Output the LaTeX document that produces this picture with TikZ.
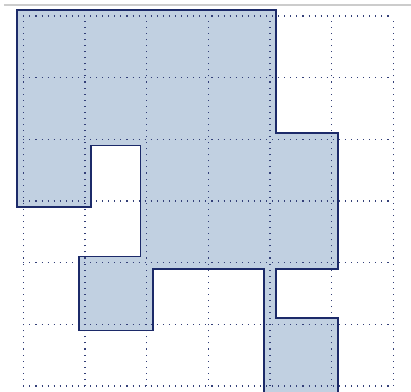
\documentclass[tikz,border=0pt]{standalone}
\usepackage{tikz}
\usepackage{xcolor}
\definecolor{fl}{RGB}{193,208,225}
\definecolor{nv}{RGB}{28,42,105}
\definecolor{gr}{gray}{0.8}
\def\region{(-0.1,6.1) -- (4.1,6.1) -- (4.1,4.1) -- (5.1,4.1) -- (5.1,1.9) -- (4.1,1.9) -- (4.1,1.1) -- (5.1,1.1) -- (5.1,-0.13) -- (3.9,-0.13) -- (3.9,1.9) -- (2.1,1.9) -- (2.1,0.9) -- (0.9,0.9) -- (0.9,2.1) -- (1.9,2.1) -- (1.9,3.9) -- (1.1,3.9) -- (1.1,2.9) -- (-0.1,2.9) -- cycle}
\begin{document}
\begin{tikzpicture}
\useasboundingbox (-0.378,-0.097) rectangle (6.287,6.259);
\draw[gr, line width=0.5pt] (-0.314,6.178) -- (6.287,6.178);
\fill[fl] \region;
\draw[step=1, nv!90, line width=0.6pt, dash pattern=on 0.5pt off 2.3pt] (0,0) grid (6,6);
\draw[nv, line width=0.7pt, line join=miter] \region;
\end{tikzpicture}
\end{document}
